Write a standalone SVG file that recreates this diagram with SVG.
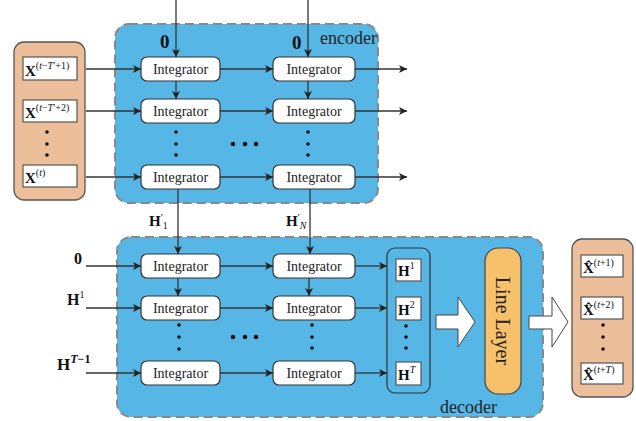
<svg xmlns="http://www.w3.org/2000/svg" width="636" height="421" viewBox="0 0 636 421">
<defs>
<marker id="ah" viewBox="0 0 10 10" refX="10" refY="5" markerWidth="8" markerHeight="8" markerUnits="userSpaceOnUse" orient="auto">
<path d="M0,0 L10,5 L0,10 L2.5,5 z" fill="#222"/>
</marker>
<style>
.region{fill:#56B7E7;stroke:#888;stroke-width:2;stroke-dasharray:9 5}
.inbox{fill:#ECBE9A;stroke:#555;stroke-width:1.3}
.cell{fill:#fff;stroke:#555;stroke-width:1.2}
.intg rect{fill:#fff;stroke:#333;stroke-width:1.2}
.intg text{font-family:"Liberation Serif","Times New Roman",serif;font-size:14px;fill:#222;text-anchor:middle}
.big{font-family:"Liberation Serif","Times New Roman",serif;font-size:18px;fill:#222}
.m{font-family:"Liberation Serif","Times New Roman",serif;font-size:15px;font-weight:bold;fill:#111}
.s{font-size:10px;font-weight:normal}
.i{font-style:italic}
.conn line,.conn path{stroke:#333;stroke-width:1.3;fill:none}
.dot{fill:#111}
.conn .hollow{fill:#fff;stroke:#444;stroke-width:1}
</style>
</defs>

<g id="encoder">
<rect class="region" x="115" y="24" width="263" height="179" rx="14"/>
<text class="big" x="320" y="44">encoder</text>
</g>
<g id="decoder">
<rect class="region" x="117" y="237" width="426" height="180" rx="14"/>
<text class="big" x="440" y="413">decoder</text>
</g>

<g id="input">
<rect class="inbox" x="14" y="42" width="71" height="158" rx="10"/>
<rect class="cell" x="23" y="57" width="54" height="23"/>
<text class="m" x="25" y="76">X<tspan class="s" dy="-7">(<tspan class="i">t</tspan>−<tspan class="i">T</tspan>′+1)</tspan></text>
<rect class="cell" x="23" y="100" width="54" height="22"/>
<text class="m" x="25" y="118">X<tspan class="s" dy="-7">(<tspan class="i">t</tspan>−<tspan class="i">T</tspan>′+2)</tspan></text>
<rect class="cell" x="23" y="165" width="54" height="22"/>
<text class="m" x="25" y="183">X<tspan class="s" dy="-7">(<tspan class="i">t</tspan>)</tspan></text>
<circle class="dot" cx="47" cy="132" r="1.8"/><circle class="dot" cx="47" cy="144" r="1.8"/><circle class="dot" cx="47" cy="155" r="1.8"/>
</g>

<g id="enc-int-1-1" class="intg"><rect x="141" y="57" width="79" height="24" rx="6"/><text x="180.5" y="74">Integrator</text></g>
<g id="enc-int-1-2" class="intg"><rect x="141" y="99" width="79" height="24" rx="6"/><text x="180.5" y="116">Integrator</text></g>
<g id="enc-int-1-3" class="intg"><rect x="141" y="165" width="79" height="24" rx="6"/><text x="180.5" y="182">Integrator</text></g>
<g id="enc-int-2-1" class="intg"><rect x="273" y="57" width="82" height="24" rx="6"/><text x="314" y="74">Integrator</text></g>
<g id="enc-int-2-2" class="intg"><rect x="273" y="99" width="82" height="24" rx="6"/><text x="314" y="116">Integrator</text></g>
<g id="enc-int-2-3" class="intg"><rect x="273" y="165" width="82" height="24" rx="6"/><text x="314" y="182">Integrator</text></g>

<g id="dec-int-1-1" class="intg"><rect x="141" y="254" width="79" height="24" rx="6"/><text x="180.5" y="271">Integrator</text></g>
<g id="dec-int-1-2" class="intg"><rect x="141" y="296" width="79" height="24" rx="6"/><text x="180.5" y="313">Integrator</text></g>
<g id="dec-int-1-3" class="intg"><rect x="141" y="361" width="79" height="24" rx="6"/><text x="180.5" y="378">Integrator</text></g>
<g id="dec-int-2-1" class="intg"><rect x="273" y="254" width="82" height="24" rx="6"/><text x="314" y="271">Integrator</text></g>
<g id="dec-int-2-2" class="intg"><rect x="273" y="296" width="82" height="24" rx="6"/><text x="314" y="313">Integrator</text></g>
<g id="dec-int-2-3" class="intg"><rect x="273" y="361" width="82" height="24" rx="6"/><text x="314" y="378">Integrator</text></g>

<g id="hstack">
<rect x="387" y="248" width="43" height="145" rx="8" fill="#56B7E7" stroke="#333" stroke-width="1.2"/>
<rect class="cell" x="396" y="259" width="25" height="22"/>
<text class="m" x="398" y="276">H<tspan class="s" dy="-7">1</tspan></text>
<rect class="cell" x="396" y="297" width="25" height="23"/>
<text class="m" x="398" y="315">H<tspan class="s" dy="-7">2</tspan></text>
<rect class="cell" x="396" y="362" width="25" height="23"/>
<text class="m" x="398" y="380">H<tspan class="s" dy="-7"><tspan class="i">T</tspan></tspan></text>
<circle class="dot" cx="406" cy="326" r="1.8"/><circle class="dot" cx="406" cy="337" r="1.8"/><circle class="dot" cx="406" cy="348" r="1.8"/>
</g>

<g id="linelayer">
<rect x="485" y="248" width="36" height="146" rx="13" fill="#F7C16B" stroke="#444" stroke-width="1.2"/>
<text x="503" y="321" transform="rotate(90 503 321)" text-anchor="middle" dominant-baseline="central" style="font-family:'Liberation Serif','Times New Roman',serif;font-size:20px;fill:#222">Line Layer</text>
</g>

<g id="output">
<rect class="inbox" x="572" y="239" width="61" height="158" rx="10"/>
<rect class="cell" x="581" y="255" width="42" height="22"/>
<text class="m" x="583" y="273">X̂<tspan class="s" dy="-7">(<tspan class="i">t</tspan>+1)</tspan></text>
<rect class="cell" x="581" y="297" width="42" height="22"/>
<text class="m" x="583" y="315">X̂<tspan class="s" dy="-7">(<tspan class="i">t</tspan>+2)</tspan></text>
<rect class="cell" x="581" y="363" width="42" height="21"/>
<text class="m" x="583" y="380">X̂<tspan class="s" dy="-7">(<tspan class="i">t</tspan>+<tspan class="i">T</tspan>)</tspan></text>
<circle class="dot" cx="603" cy="325" r="1.8"/><circle class="dot" cx="603" cy="337" r="1.8"/><circle class="dot" cx="603" cy="349" r="1.8"/>
</g>

<g id="labels">
<text class="m" x="160" y="48" style="font-size:19px">0</text>
<text class="m" x="292" y="49" style="font-size:19px">0</text>
<text class="m" x="149" y="226">H<tspan class="s" dy="-5">′</tspan><tspan class="s" dy="8">1</tspan></text>
<text class="m" x="286" y="226">H<tspan class="s" dy="-5">′</tspan><tspan class="s i" dy="8">N</tspan></text>
<text class="m" x="74" y="264" style="font-size:16px">0</text>
<text class="m" x="67" y="305" style="font-size:16px">H<tspan class="s" dy="-7">1</tspan></text>
<text class="m" x="57" y="370" style="font-size:17px">H<tspan class="s" style="font-size:12px;font-weight:bold" dy="-7"><tspan class="i">T</tspan>−1</tspan></text>
</g>

<g id="dots">
<circle class="dot" cx="176" cy="132" r="1.8"/><circle class="dot" cx="176" cy="144" r="1.8"/><circle class="dot" cx="176" cy="155" r="1.8"/>
<circle class="dot" cx="308" cy="132" r="1.8"/><circle class="dot" cx="308" cy="144" r="1.8"/><circle class="dot" cx="308" cy="155" r="1.8"/>
<circle class="dot" cx="233" cy="144" r="2.3"/><circle class="dot" cx="245" cy="144" r="2.3"/><circle class="dot" cx="256" cy="144" r="2.3"/>
<circle class="dot" cx="179" cy="325" r="1.8"/><circle class="dot" cx="179" cy="337" r="1.8"/><circle class="dot" cx="179" cy="349" r="1.8"/>
<circle class="dot" cx="312" cy="325" r="1.8"/><circle class="dot" cx="312" cy="337" r="1.8"/><circle class="dot" cx="312" cy="348" r="1.8"/>
<circle class="dot" cx="233" cy="337" r="2.3"/><circle class="dot" cx="245" cy="337" r="2.3"/><circle class="dot" cx="256" cy="337" r="2.3"/>
</g>

<g id="connectors" class="conn">
<line x1="176" y1="0" x2="176" y2="57" marker-end="url(#ah)"/>
<line x1="308" y1="0" x2="308" y2="57" marker-end="url(#ah)"/>
<line x1="176" y1="81" x2="176" y2="99" marker-end="url(#ah)"/>
<line x1="308" y1="81" x2="308" y2="99" marker-end="url(#ah)"/>
<line x1="86" y1="69" x2="141" y2="69" marker-end="url(#ah)"/>
<line x1="86" y1="111" x2="141" y2="111" marker-end="url(#ah)"/>
<line x1="86" y1="177" x2="141" y2="177" marker-end="url(#ah)"/>
<line x1="220" y1="69" x2="273" y2="69" marker-end="url(#ah)"/>
<line x1="220" y1="111" x2="273" y2="111" marker-end="url(#ah)"/>
<line x1="220" y1="177" x2="273" y2="177" marker-end="url(#ah)"/>
<line x1="355" y1="69" x2="407" y2="69" marker-end="url(#ah)"/>
<line x1="355" y1="111" x2="407" y2="111" marker-end="url(#ah)"/>
<line x1="355" y1="177" x2="407" y2="177" marker-end="url(#ah)"/>
<line x1="178" y1="189" x2="178" y2="254" marker-end="url(#ah)"/>
<line x1="310" y1="189" x2="310" y2="254" marker-end="url(#ah)"/>
<line x1="178" y1="278" x2="178" y2="296" marker-end="url(#ah)"/>
<line x1="309" y1="278" x2="309" y2="296" marker-end="url(#ah)"/>
<line x1="86" y1="266" x2="141" y2="266" marker-end="url(#ah)"/>
<line x1="86" y1="308" x2="141" y2="308" marker-end="url(#ah)"/>
<line x1="86" y1="373" x2="141" y2="373" marker-end="url(#ah)"/>
<line x1="220" y1="266" x2="273" y2="266" marker-end="url(#ah)"/>
<line x1="220" y1="308" x2="273" y2="308" marker-end="url(#ah)"/>
<line x1="220" y1="373" x2="273" y2="373" marker-end="url(#ah)"/>
<line x1="355" y1="266" x2="387" y2="266" marker-end="url(#ah)"/>
<line x1="355" y1="308" x2="387" y2="308" marker-end="url(#ah)"/>
<line x1="355" y1="373" x2="387" y2="373" marker-end="url(#ah)"/>
<path class="hollow" d="M436,315 L458,315 L458,297 L475,322 L458,347 L458,329 L436,329 Z"/>
<path class="hollow" d="M529,316 L552,316 L552,297 L568,322 L552,347 L552,329 L529,329 Z"/>
</g>
</svg>
